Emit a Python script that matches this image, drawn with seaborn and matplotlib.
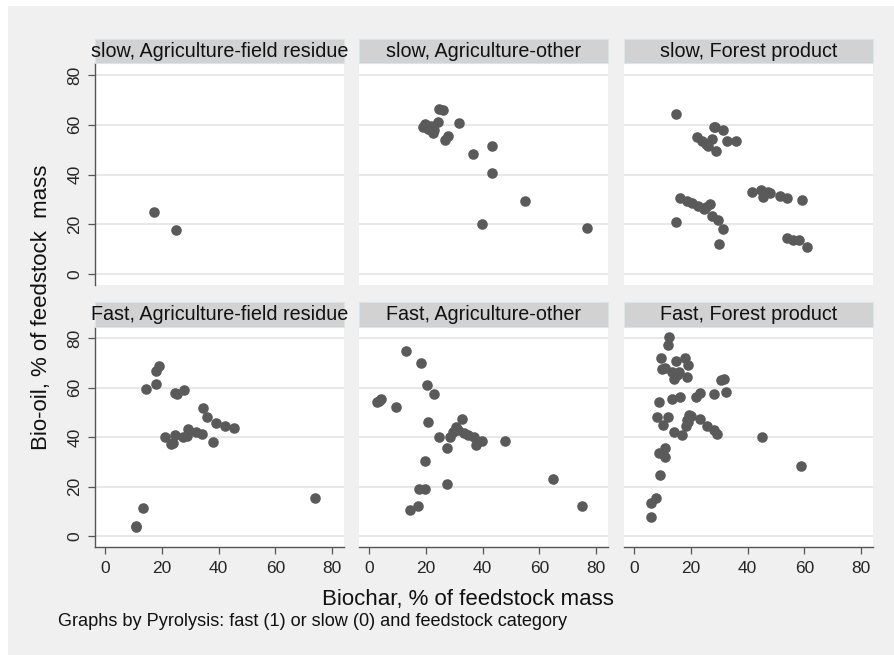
import matplotlib
matplotlib.use("Agg")
import matplotlib.pyplot as plt
from matplotlib.patches import Rectangle
import numpy as np
import pandas as pd
import seaborn as sns

# ---------------- data ----------------
feedstocks = ["Agriculture-field residue", "Agriculture-other", "Forest product"]
pyrolysis = ["slow", "Fast"]

slow_field_x = [17.3, 25.0]
slow_field_y = [25.1, 17.9]

slow_other_x = [24.5, 26.0, 19.7, 24.2, 20.7, 22.4, 21.9, 31.7, 27.8, 26.9,
                36.6, 43.4, 43.4, 55.0, 39.7, 76.6, 19.0, 23.0]
slow_other_y = [66.4, 65.8, 60.3, 61.0, 58.3, 56.9, 59.7, 60.7, 55.6, 54.0,
                48.1, 51.5, 40.7, 29.4, 20.3, 18.7, 59.0, 58.0]

slow_forest_x = [14.9, 28.5, 31.3, 22.3, 24.1, 25.2, 26.2, 27.3, 32.9, 36.0,
                 29.0, 16.2, 18.8, 20.5, 22.6, 24.6, 26.6, 27.3, 29.7, 31.3,
                 14.9, 29.9, 41.4, 44.6, 45.4, 47.8, 51.3, 54.0, 59.0, 54.0,
                 55.8, 58.1, 60.8, 28.0, 47.0, 25.5]
slow_forest_y = [64.3, 59.3, 58.0, 55.3, 53.6, 52.2, 51.3, 54.5, 53.6, 53.6,
                 49.4, 30.5, 29.6, 28.7, 27.4, 26.4, 28.2, 23.5, 21.7, 18.3,
                 21.0, 12.2, 33.1, 33.9, 31.2, 32.5, 31.5, 30.8, 30.0, 14.6,
                 13.8, 13.6, 11.1, 59.0, 33.0, 27.0]

fast_field_x = [19.1, 17.8, 17.9, 14.3, 24.6, 25.2, 27.9, 34.6, 36.0, 39.1,
                42.2, 45.5, 21.3, 24.6, 23.2, 24.0, 27.3, 28.7, 29.1, 32.0,
                34.0, 37.9, 13.5, 10.8, 11.1, 74.0]
fast_field_y = [69.0, 66.9, 61.4, 59.4, 57.8, 57.5, 59.0, 52.0, 48.0, 45.6,
                44.5, 43.6, 40.2, 40.9, 37.2, 37.8, 39.9, 40.5, 43.3, 42.1,
                41.3, 38.2, 11.2, 4.0, 3.5, 15.2]

fast_other_x = [13.2, 18.3, 20.4, 22.8, 2.7, 3.5, 4.4, 9.5, 20.8, 32.7,
                30.7, 29.5, 33.5, 34.9, 37.0, 39.8, 37.5, 28.4, 27.5, 24.5,
                47.9, 19.6, 17.5, 19.7, 27.3, 17.3, 14.3, 64.9, 75.1, 31.5]
fast_other_y = [75.0, 69.9, 61.0, 57.5, 54.1, 54.8, 55.3, 52.1, 46.3, 47.4,
                44.3, 42.2, 41.8, 40.9, 39.9, 38.6, 36.7, 40.2, 35.8, 40.2,
                38.6, 30.4, 19.0, 19.0, 20.9, 12.0, 10.4, 23.2, 12.3, 43.0]

fast_forest_x = [12.3, 12.0, 9.6, 14.9, 17.9, 19.1, 9.7, 11.1, 13.5, 15.8,
                 14.2, 18.5, 30.5, 31.7, 32.3, 28.2, 23.1, 21.9, 16.1, 13.5,
                 8.7, 8.0, 12.1, 10.2, 19.4, 18.8, 18.2, 23.2, 25.8, 28.2,
                 29.3, 14.1, 17.0, 44.9, 11.1, 8.8, 11.1, 9.0, 58.7, 7.6,
                 6.1, 5.9, 20.0, 19.0, 15.0]
fast_forest_y = [80.4, 77.3, 72.2, 71.0, 72.2, 69.2, 67.5, 67.9, 66.5, 66.5,
                 63.4, 64.5, 63.2, 63.4, 58.4, 57.6, 57.8, 56.4, 56.4, 55.5,
                 54.4, 48.2, 48.0, 45.1, 49.0, 47.0, 44.5, 47.3, 44.5, 42.9,
                 41.3, 42.1, 40.9, 40.2, 35.5, 33.5, 32.1, 24.6, 28.3, 15.2,
                 13.5, 7.8, 48.5, 46.0, 65.0]

x_ticks = [0, 20, 40, 60, 80]
y_ticks = [0, 20, 40, 60, 80]

panels = {
    ("slow", feedstocks[0]): (slow_field_x, slow_field_y),
    ("slow", feedstocks[1]): (slow_other_x, slow_other_y),
    ("slow", feedstocks[2]): (slow_forest_x, slow_forest_y),
    ("Fast", feedstocks[0]): (fast_field_x, fast_field_y),
    ("Fast", feedstocks[1]): (fast_other_x, fast_other_y),
    ("Fast", feedstocks[2]): (fast_forest_x, fast_forest_y),
}
rows = []
for (p, f), (xs, ys) in panels.items():
    for a, b in zip(xs, ys):
        rows.append({"pyro": p, "feed": f, "biochar": a, "biooil": b})
df = pd.DataFrame(rows)

# ---------------- style ----------------
sns.set_style("white")
plt.rcParams["font.family"] = ["Liberation Sans", "DejaVu Sans"]

W, H = 895, 655
BG = "#f0f0f0"
MARK = "#5a5a5a"
STRIP = "#d2d2d2"
GRID = "#e6e6e6"
AXC = "#555555"

g = sns.FacetGrid(df, row="pyro", col="feed", row_order=pyrolysis,
                  col_order=feedstocks, sharex=True, sharey=True,
                  height=3, aspect=1.1, despine=False)
g.map_dataframe(sns.scatterplot, x="biochar", y="biooil", color=MARK,
                s=58, linewidth=0, edgecolor=MARK)
fig = g.figure
fig.set_size_inches(W / 100, H / 100)
fig.set_dpi(100)
fig.patch.set_facecolor("white")
fig.patches.append(Rectangle((8 / W, 0), 1 - 8 / W, 1 - 6 / H,
                             transform=fig.transFigure, facecolor=BG,
                             edgecolor="none", zorder=-10))

col_left = [95, 359, 624]
pw = 249
row_top = [63.3, 326.7]
row_h = [221.7, 220.0]
strip_h = 24.5

for i, p in enumerate(pyrolysis):
    for j, f in enumerate(feedstocks):
        ax = g.axes[i, j]
        l = col_left[j] / W
        b = 1 - (row_top[i] + row_h[i]) / H
        ax.set_position([l, b, pw / W, row_h[i] / H])
        ax.set_facecolor("white")
        ax.set_xlim(-3.5, 84.1)
        ax.set_ylim(-4.7 if i == 0 else -4.3, 85.4 if i == 0 else 84.7)
        ax.set_title("")
        ax.set_xlabel("")
        ax.set_ylabel("")
        ax.set_yticks(y_ticks)
        ax.set_xticks(x_ticks)
        ax.grid(False)
        for yv in y_ticks:
            ax.axhline(yv, color=GRID, lw=1.3, zorder=0)
        for s in ["top", "right"]:
            ax.spines[s].set_visible(False)
        ax.spines["left"].set_visible(j == 0)
        ax.spines["bottom"].set_visible(i == 1)
        ax.spines["left"].set_color(AXC)
        ax.spines["bottom"].set_color(AXC)
        ax.spines["left"].set_linewidth(1.0)
        ax.spines["bottom"].set_linewidth(1.0)
        ax.tick_params(axis="y", left=(j == 0), labelleft=(j == 0),
                       direction="out", length=5, width=0.9, color=AXC,
                       labelsize=12.5, pad=4)
        ax.tick_params(axis="x", bottom=(i == 1), labelbottom=(i == 1),
                       direction="out", length=5, width=0.9, color=AXC,
                       labelsize=12.5, pad=5)
        if j == 0:
            for lab in ax.get_yticklabels():
                lab.set_rotation(90)
                lab.set_va("center")
        # strip
        sh = strip_h / row_h[i]
        ax.add_patch(Rectangle((0, 1), 1, sh, transform=ax.transAxes,
                               clip_on=False, facecolor=STRIP,
                               edgecolor="#dbe4ea", lw=0.8, zorder=5))
        ax.text(0.5, 1 + sh / 2, f"{p}, {f}", transform=ax.transAxes,
                ha="center", va="center", fontsize=14.2, color="#111111",
                zorder=6)

fig.text(42 / W, 1 - 307 / H, "Bio-oil, % of feedstock  mass", rotation=90,
         ha="center", va="center", fontsize=16, color="#111111")
fig.text(468 / W, 1 - 599 / H, "Biochar, % of feedstock mass",
         ha="center", va="center", fontsize=16, color="#111111")
fig.text(58 / W, 1 - 622 / H,
         "Graphs by Pyrolysis: fast (1) or slow (0) and feedstock category",
         ha="left", va="center", fontsize=13.1, color="#111111")

fig.savefig("out.png", dpi=100, facecolor=fig.get_facecolor())
